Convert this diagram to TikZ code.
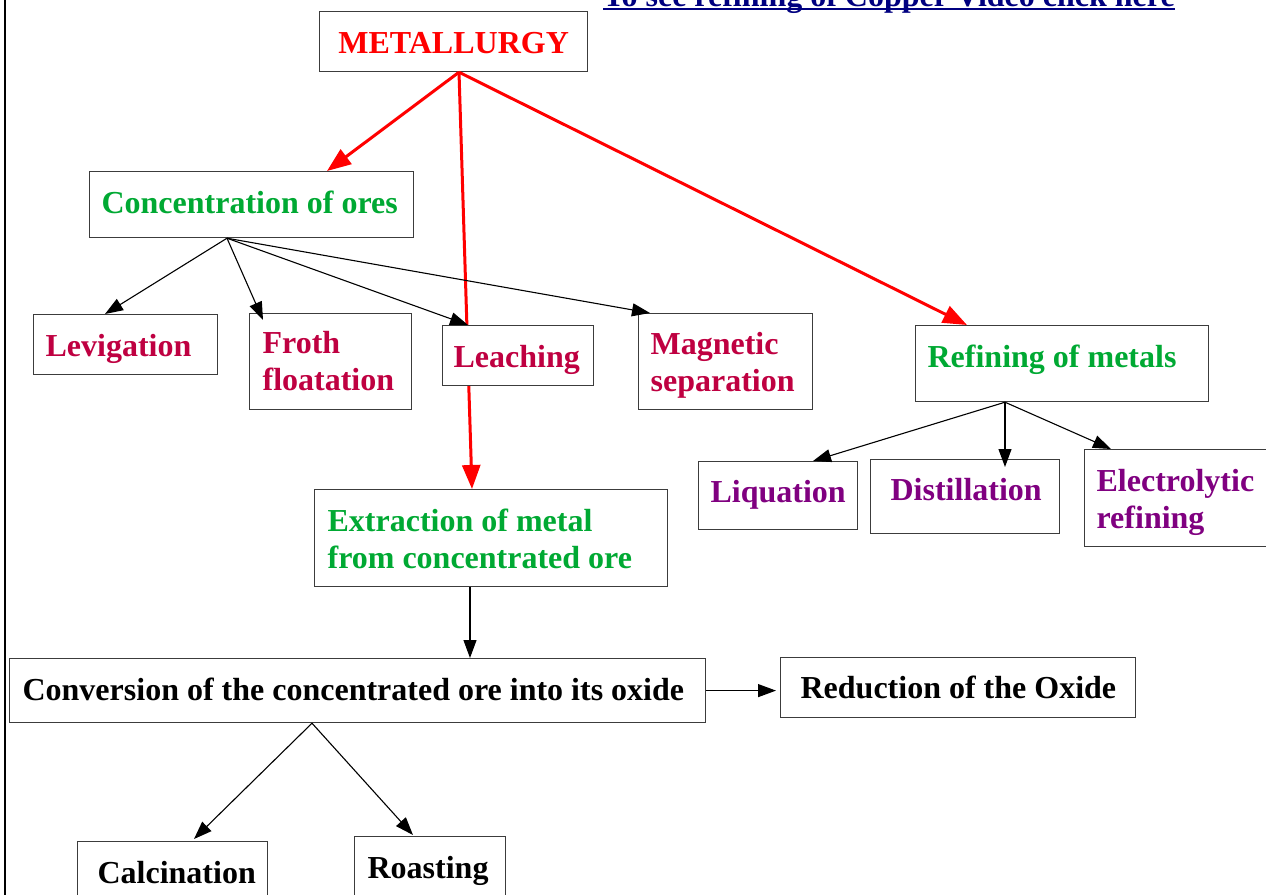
\documentclass[tikz,border=0pt]{standalone}
\usepackage{fontspec}
\setmainfont{Liberation Serif}
\usetikzlibrary{arrows.meta,calc}
\definecolor{lgreen}{HTML}{00A933}
\definecolor{lmag}{HTML}{BF0041}
\definecolor{lpurple}{HTML}{800080}
\definecolor{lnavy}{HTML}{000080}
\definecolor{boxgray}{HTML}{3C3C3C}
\newcommand\mainfnt{\fontsize{32}{36.5}\selectfont\bfseries}
\pgfdeclarelayer{bg}
\pgfsetlayers{bg,main}
\tikzset{
  bx/.style={draw=boxgray, line width=1.2pt, fill=white, anchor=north west,
    inner ysep=0pt, align=flush left, font=\mainfnt},
  redarr/.style={draw=red, line width=3pt, -{Triangle[length=24pt,width=18pt]}, red},
  blkarr/.style={draw=black, line width=1.1pt, -{Triangle[length=18pt,width=13pt]}},
}
\begin{document}
\begin{tikzpicture}[x=1pt,y=-1pt]
\useasboundingbox (0,0) rectangle (1266,894);
\clip (0,0) rectangle (1266,894);
\begin{pgfonlayer}{bg}
\fill[white] (0,0) rectangle (1266,894);
\end{pgfonlayer}
% left frame line
\draw[line width=2.6pt] (5,-2) -- (5,896);
% link text
\node[anchor=base west, inner sep=0pt, font=\mainfnt, text=lnavy] (link) at (603,6) {To see refining of Copper Video click here};
\draw[lnavy, line width=2pt] ([yshift=-3pt]link.base west) -- ([yshift=-3pt]link.base east);
% boxes
\node[bx, inner xsep=12pt, text width=244pt, align=flush center, text height=42pt, text depth=18pt, text=red] (metal) at (319,11) {\mbox{METALLURGY}};
\node[bx, inner xsep=12pt, text width=300pt, text height=42pt, text depth=24pt, text=lgreen] (conc) at (89,171) {\mbox{Concentration of ores}};
\node[bx, inner xsep=12pt, text width=160pt, text height=42pt, text depth=18pt, text=lmag] (levig) at (33,314) {\mbox{Levigation}};
\node[bx, inner xsep=13pt, text width=136pt, text height=40pt, text depth=56pt, text=lmag] (froth) at (249,313) {\mbox{Froth}\\\mbox{floatation}};
\node[bx, inner xsep=11pt, text width=129pt, text height=42pt, text depth=18pt, text=lmag] (leach) at (442,325) {\mbox{Leaching}};
\node[bx, inner xsep=12pt, text width=150pt, text height=41pt, text depth=55pt, text=lmag] (magnet) at (638,313) {\mbox{Magnetic}\\\mbox{separation}};
\node[bx, inner xsep=12pt, text width=269pt, text height=42pt, text depth=34pt, text=lgreen] (refin) at (915,325) {\mbox{Refining of metals}};
\node[bx, inner xsep=13pt, text width=327pt, text height=42pt, text depth=55pt, text=lgreen] (extract) at (314,489) {\mbox{Extraction of metal}\\\mbox{from concentrated ore}};
\node[bx, inner xsep=12pt, text width=135pt, text height=41pt, text depth=27pt, text=lpurple] (liq) at (698,461) {\mbox{Liquation}};
\node[bx, inner xsep=20pt, text width=149pt, text height=41pt, text depth=33pt, text=lpurple] (dist) at (870,459) {\mbox{Distillation}};
\node[bx, inner xsep=12pt, text width=163pt, text height=42pt, text depth=55pt, text=lpurple] (electro) at (1084,449) {\mbox{Electrolytic}\\\mbox{refining}};
\node[bx, inner xsep=13pt, text width=670pt, text height=42pt, text depth=22pt, text=black] (conv) at (9,658) {\mbox{Conversion of the concentrated ore into its oxide}};
\node[bx, inner xsep=20pt, text width=315pt, text height=41pt, text depth=19pt, text=black] (reduc) at (780,657) {\mbox{Reduction of the Oxide}};
\node[bx, inner xsep=20pt, text width=150pt, text height=42pt, text depth=30pt, text=black] (calc) at (77,841) {\mbox{Calcination}};
\node[bx, inner xsep=13pt, text width=125pt, text height=42pt, text depth=30pt, text=black] (roast) at (354,836) {\mbox{Roasting}};
% red connectors
\coordinate (mtop) at ($(metal.south west)+(140,0)$);
\begin{pgfonlayer}{bg}
\draw[redarr] (mtop) -- ($(extract.north west)+(158,0)$);
\end{pgfonlayer}
\draw[redarr] (mtop) -- ($(conc.north west)+(238,0)$);
\draw[redarr] (mtop) -- ($(refin.north west)+(52,0)$);
% black connectors
\coordinate (cbot) at ($(conc.south west)+(138,0)$);
\draw[blkarr] (cbot) -- ($(levig.north west)+(72,0)$);
\draw[blkarr] (cbot) -- ($(froth.north west)+(14,7)$);
\draw[blkarr] (cbot) -- ($(leach.north west)+(26,0)$);
\draw[blkarr] (cbot) -- ($(magnet.north west)+(12,0)$);
\coordinate (rbot) at ($(refin.south west)+(90,0)$);
\draw[blkarr] (rbot) -- ($(liq.north west)+(115,0)$);
\draw[blkarr] (rbot) -- ($(dist.north west)+(135,8)$);
\draw[blkarr] (rbot) -- ($(electro.north west)+(27,0)$);
\draw[blkarr] ($(extract.south west)+(156,0)$) -- ($(conv.north west)+(461,0)$);
\draw[blkarr] (conv.east) -- ([xshift=-4pt]reduc.west |- conv.east);
\coordinate (vbot) at ($(conv.south west)+(303,0)$);
\draw[blkarr] (vbot) -- ($(calc.north west)+(117,-2)$);
\draw[blkarr] (vbot) -- ($(roast.north west)+(59,-1)$);
\end{tikzpicture}
\end{document}
